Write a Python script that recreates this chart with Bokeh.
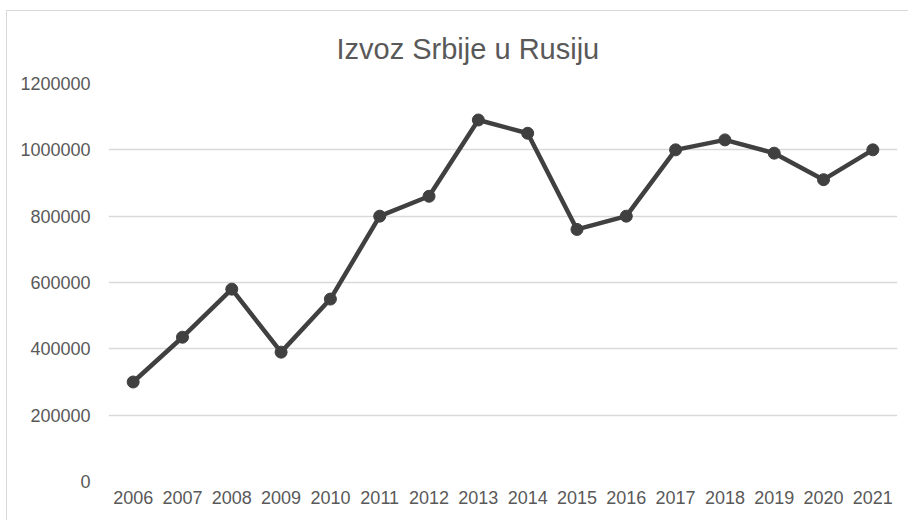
from bokeh.plotting import figure
from bokeh.embed import file_html
from bokeh.resources import INLINE
from bokeh.models import FixedTicker, NumeralTickFormatter, Range1d

years = ["2006", "2007", "2008", "2009", "2010", "2011", "2012", "2013",
         "2014", "2015", "2016", "2017", "2018", "2019", "2020", "2021"]
izvoz = [300000, 435000, 580000, 390000, 550000, 800000, 860000, 1090000,
         1050000, 760000, 800000, 1000000, 1030000, 990000, 910000, 1000000]
y_ticks = [0, 200000, 400000, 600000, 800000, 1000000, 1200000]

FONT = "Liberation Sans"
GRAY = "#595959"

p = figure(x_range=years, y_range=Range1d(0, 1200000), width=902, height=510,
           output_backend="svg", toolbar_location=None,
           title="Izvoz Srbije u Rusiju",
           min_border_left=101, min_border_right=12, min_border_bottom=40, min_border_top=72)

p.styles = {"margin-left": "6px", "margin-top": "10px",
            "border-left": "1px solid #d9d9d9", "border-top": "1px solid #d9d9d9"}

p.title.align = "left"
p.title.offset = 228
p.title.text_font = FONT
p.title.text_font_size = "29px"
p.title.text_font_style = "normal"
p.title.text_color = GRAY
p.title.standoff = 37

p.outline_line_color = None
p.background_fill_color = "white"
p.border_fill_color = "white"

p.line(years, izvoz, line_color="#404040", line_width=4.5)
p.scatter(years, izvoz, size=12, fill_color="#404040", line_color="#404040")

p.xgrid.grid_line_color = None
p.ygrid.grid_line_color = "#d9d9d9"
p.ygrid.grid_line_width = 1.5

p.yaxis.ticker = FixedTicker(ticks=y_ticks)
p.yaxis.formatter = NumeralTickFormatter(format="0")
for ax in (p.xaxis[0], p.yaxis[0]):
    ax.axis_line_color = None
    ax.major_tick_line_color = None
    ax.minor_tick_line_color = None
    ax.major_tick_in = 0
    ax.major_tick_out = 0
    ax.major_label_text_font = FONT
    ax.major_label_text_font_size = "18px"
    ax.major_label_text_color = GRAY
p.yaxis.major_label_standoff = 18
p.xaxis.major_label_standoff = 9

open("out.html", "w").write(file_html(p, INLINE))
